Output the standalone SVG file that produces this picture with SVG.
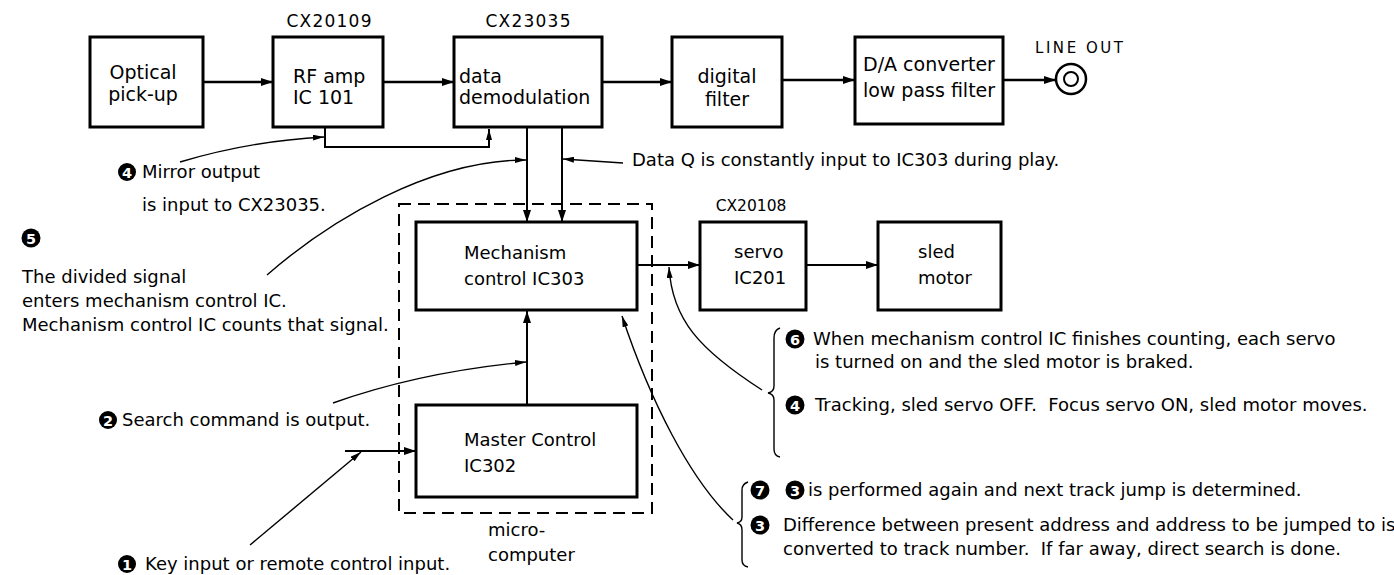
<svg xmlns="http://www.w3.org/2000/svg" width="1394" height="575" viewBox="0 0 1394 575">
<style>
.bg{fill:#fff}
.box{fill:#fff;stroke:#000;stroke-width:3}
.dash{fill:none;stroke:#000;stroke-width:2;stroke-dasharray:12 7}
.w{fill:none;stroke:#000;stroke-width:2.5}
.m{fill:none;stroke:#000;stroke-width:2}
.thin{fill:none;stroke:#000;stroke-width:1.4}
text{font-family:"DejaVu Sans","Liberation Sans",sans-serif;fill:#000}
.bt{font-size:19px}
.lb{font-size:17px}
.an{font-size:18px}
.rt{font-size:18px}
.nc{fill:#000}
.nt{font-size:14.5px;font-weight:bold;fill:#fff;text-anchor:middle}
</style>
<defs>
<marker id="ah" viewBox="0 0 12 8" refX="12" refY="4" markerWidth="12" markerHeight="8" orient="auto" markerUnits="userSpaceOnUse"><path d="M0,0 L12,4 L0,8 z" fill="#000"/></marker>
<marker id="as" viewBox="0 0 11 6" refX="11" refY="3" markerWidth="11" markerHeight="6" orient="auto" markerUnits="userSpaceOnUse"><path d="M0,0 L11,3 L0,6 z" fill="#000"/></marker>
</defs>
<rect class="bg" x="0" y="0" width="1394" height="575"/>

<g id="labels">
<text class="lb" x="329" y="27" text-anchor="middle" textLength="85">CX20109</text>
<text class="lb" x="528" y="27" text-anchor="middle" textLength="85">CX23035</text>
<text class="lb" x="751" y="211" text-anchor="middle" style="font-size:15.5px">CX20108</text>
<text x="1035" y="53" style="font-size:15px" textLength="88">LINE OUT</text>
</g>

<g id="optical">
<rect class="box" x="90" y="37" width="113" height="90"/>
<text class="bt" x="143" y="79" text-anchor="middle">Optical</text>
<text class="bt" x="143" y="101" text-anchor="middle">pick-up</text>
</g>
<g id="rfamp">
<rect class="box" x="273" y="37" width="110" height="90"/>
<text class="bt" x="293" y="83">RF amp</text>
<text class="bt" x="293" y="104">IC 101</text>
</g>
<g id="demod">
<rect class="box" x="454" y="37" width="148" height="90"/>
<text class="bt" x="459" y="83">data</text>
<text class="bt" x="459" y="104">demodulation</text>
</g>
<g id="digital">
<rect class="box" x="672" y="37" width="110" height="90"/>
<text class="bt" x="727" y="83" text-anchor="middle">digital</text>
<text class="bt" x="727" y="106" text-anchor="middle">filter</text>
</g>
<g id="da">
<rect class="box" x="855" y="37" width="148" height="87"/>
<text class="bt" x="929" y="71" text-anchor="middle">D/A converter</text>
<text class="bt" x="929" y="97" text-anchor="middle">low pass filter</text>
</g>
<g id="lineout">
<circle cx="1071" cy="79" r="15" fill="none" stroke="#000" stroke-width="2.5"/>
<circle cx="1071" cy="79" r="7" fill="none" stroke="#000" stroke-width="2"/>
</g>
<g id="microcomputer">
<rect class="dash" x="399" y="204" width="253" height="309"/>
<text class="an" x="488" y="536">micro-</text>
<text class="an" x="488" y="561">computer</text>
</g>
<g id="mech">
<rect class="box" x="416" y="222" width="221" height="88"/>
<text class="an" x="464" y="259">Mechanism</text>
<text class="an" x="464" y="285">control IC303</text>
</g>
<g id="master">
<rect class="box" x="416" y="405" width="221" height="92"/>
<text class="an" x="464" y="446">Master Control</text>
<text class="an" x="464" y="472">IC302</text>
</g>
<g id="servo">
<rect class="box" x="700" y="222" width="106" height="88"/>
<text class="an" x="734" y="258">servo</text>
<text class="an" x="734" y="284">IC201</text>
</g>
<g id="sled">
<rect class="box" x="878" y="222" width="123" height="88"/>
<text class="an" x="918" y="258">sled</text>
<text class="an" x="918" y="284">motor</text>
</g>

<g id="connectors">
<path class="w" d="M203,82 H273" marker-end="url(#ah)"/>
<path class="w" d="M383,82 H454" marker-end="url(#ah)"/>
<path class="w" d="M602,82 H672" marker-end="url(#ah)"/>
<path class="w" d="M782,80 H855" marker-end="url(#ah)"/>
<path class="w" d="M1003,80 H1056" marker-end="url(#ah)"/>
<path class="m" d="M325,127 V147 H489 V129" marker-end="url(#as)"/>
<path class="m" d="M527,127 V222" marker-end="url(#ah)"/>
<path class="m" d="M562,127 V222" marker-end="url(#ah)"/>
<path class="m" d="M637,265 H700" marker-end="url(#ah)"/>
<path class="m" d="M806,265 H878" marker-end="url(#ah)"/>
<path class="m" d="M527,405 V311" marker-end="url(#ah)"/>
<path class="m" d="M345,451 H416" marker-end="url(#ah)"/>
<path class="thin" d="M180,162 Q250,141 324,137" marker-end="url(#as)"/>
<path class="thin" d="M267,275 C330,220 430,160 526,160" marker-end="url(#as)"/>
<path class="thin" d="M623,163 L563,159" marker-end="url(#as)"/>
<path class="thin" d="M333,403 Q420,372 526,362" marker-end="url(#as)"/>
<path class="thin" d="M250,545 L361,452" marker-end="url(#as)"/>
<path class="thin" d="M733,520 C690,480 650,400 622,316" marker-end="url(#as)"/>
<path class="thin" d="M762,390 C700,350 672,320 669,267" marker-end="url(#as)"/>
<path class="thin" d="M780,328 Q774,330 774,338 L774,386 Q774,392 768,393 Q774,394 774,400 L774,449 Q774,456 780,457"/>
<path class="thin" d="M748,482 Q742,484 742,490 L742,517 Q742,522 737,523 Q742,524 742,530 L742,560 Q742,566 748,567"/>
</g>

<g id="notes-left">
<circle class="nc" cx="127" cy="172" r="9"/><text class="nt" x="127" y="177.5">4</text>
<text class="an" x="142" y="178">Mirror output</text>
<text class="an" x="142" y="211">is input to CX23035.</text>
<circle class="nc" cx="31" cy="238" r="9.5"/><text class="nt" x="31" y="243.5">5</text>
<text class="an" x="22" y="283">The divided signal</text>
<text class="an" x="22" y="307">enters mechanism control IC.</text>
<text class="an" x="22" y="331">Mechanism control IC counts that signal.</text>
<circle class="nc" cx="108" cy="420" r="9"/><text class="nt" x="108" y="425.5">2</text>
<text class="an" x="122" y="426">Search command is output.</text>
<circle class="nc" cx="127" cy="564" r="9"/><text class="nt" x="127" y="569.5">1</text>
<text class="an" x="145" y="570">Key input or remote control input.</text>
</g>
<g id="notes-top">
<text class="an" x="632" y="166">Data Q is constantly input to IC303 during play.</text>
</g>
<g id="notes-right">
<circle class="nc" cx="795" cy="339" r="9.5"/><text class="nt" x="795" y="344.5">6</text>
<text class="rt" x="813" y="345">When mechanism control IC finishes counting, each servo</text>
<text class="rt" x="815" y="368">is turned on and the sled motor is braked.</text>
<circle class="nc" cx="795" cy="405" r="9.5"/><text class="nt" x="795" y="410.5">4</text>
<text class="rt" x="815" y="411">Tracking, sled servo OFF.&#160; Focus servo ON, sled motor moves.</text>
<circle class="nc" cx="760" cy="490" r="9.5"/><text class="nt" x="760" y="495.5">7</text>
<circle class="nc" cx="795" cy="490" r="9.5"/><text class="nt" x="795" y="495.5">3</text>
<text class="rt" x="808" y="496">is performed again and next track jump is determined.</text>
<circle class="nc" cx="760" cy="525" r="9.5"/><text class="nt" x="760" y="530.5">3</text>
<text class="rt" x="783" y="531">Difference between present address and address to be jumped to is</text>
<text class="rt" x="783" y="555">converted to track number.&#160; If far away, direct search is done.</text>
</g>
</svg>
